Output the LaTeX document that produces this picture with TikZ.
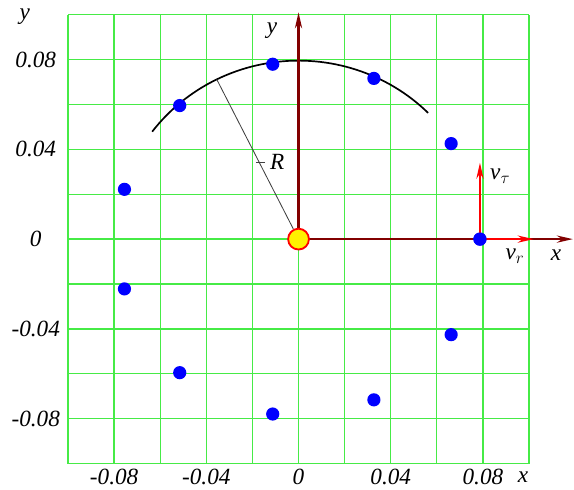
\documentclass[tikz,border=0pt]{standalone}
\usepackage{fontspec}
\setmainfont{Liberation Serif}
\usetikzlibrary{arrows.meta}

\definecolor{gridgreen}{RGB}{70,235,70}
\definecolor{axisred}{RGB}{130,0,0}

\begin{document}
\begin{tikzpicture}[
    x=0.57625cm,
    y=0.56125cm,
    every node/.style={
        font=\fontsize{16.5}{18}\selectfont\itshape
    },
    gridline/.style={
        gridgreen,
        line width=0.9pt
    },
    axis/.style={
        axisred,
        line width=1.5pt,
        -{Stealth[length=4mm,width=1.8mm,inset=1.3mm]}
    },
    vel/.style={
        red,
        line width=1.3pt,
        -{Stealth[length=4mm,width=1.8mm,inset=1.3mm]}
    },
    dot/.style={
        circle,
        fill=blue,
        inner sep=0pt,
        minimum size=3.3mm
    },
    centre/.style={
        circle,
        draw=red,
        fill=yellow,
        line width=1.3pt,
        inner sep=0pt,
        minimum size=5.2mm
    },
    thinline/.style={
        black!75,
        line width=0.6pt
    }
]

\useasboundingbox (-12.95,-11.14) rectangle (11.95,10.65);

\draw[gridline] (-10,-10) grid[step={(2,2)}] (10,10);

\foreach \v/\t in {-8/-0.08,-4/-0.04,0/0,4/0.04,8/0.08} {
    \node (xl\v) at (\v,-10.6) {\t};
    \node (yl\v) at (-11.4,\v) {\t};
}

\node (ylab) at (-11.87,9.9) {y};

\node (xlab) at (9.74,-10.6) {x};

\draw[line width=1.2pt] plot[domain=45:143, samples=60] ({7.95*cos(\x)},{7.95*sin(\x)});

\coordinate (O) at (0,0);

\coordinate (yend) at (0,10.1);

\coordinate (xend) at (11.9,0);

\coordinate (rend) at (116.5:7.95);

\draw[axis] (O) -- (yend);

\draw[axis] (O) -- (xend);

\node (yaxis) at (-1.15,9.3) {y};

\node (xaxis) at (11.17,-0.71) {x};

\foreach \k in {0,...,10}
    \node[dot] (p\k) at ({360/11*\k}:7.87) {};

\node[centre] (o) at (O) {};

\draw[thinline] (o) -- (rend);

\node (rlab) at (-0.93,3.43) {R};

\draw[thinline] (rlab.west) -- ++(-0.4,0);

\coordinate (vt) at (7.87,3.4);

\coordinate (vr) at (10.2,0);

\draw[vel] (p0.center) -- (vt);

\draw[vel] (p0.center) -- (vr);

\node[dot] at (p0) {};

\node (vtlab) at (8.75,2.8) {v$_{\tau}$};

\node (vrlab) at (9.39,-0.76) {v$_{r}$};

\end{tikzpicture}
\end{document}
